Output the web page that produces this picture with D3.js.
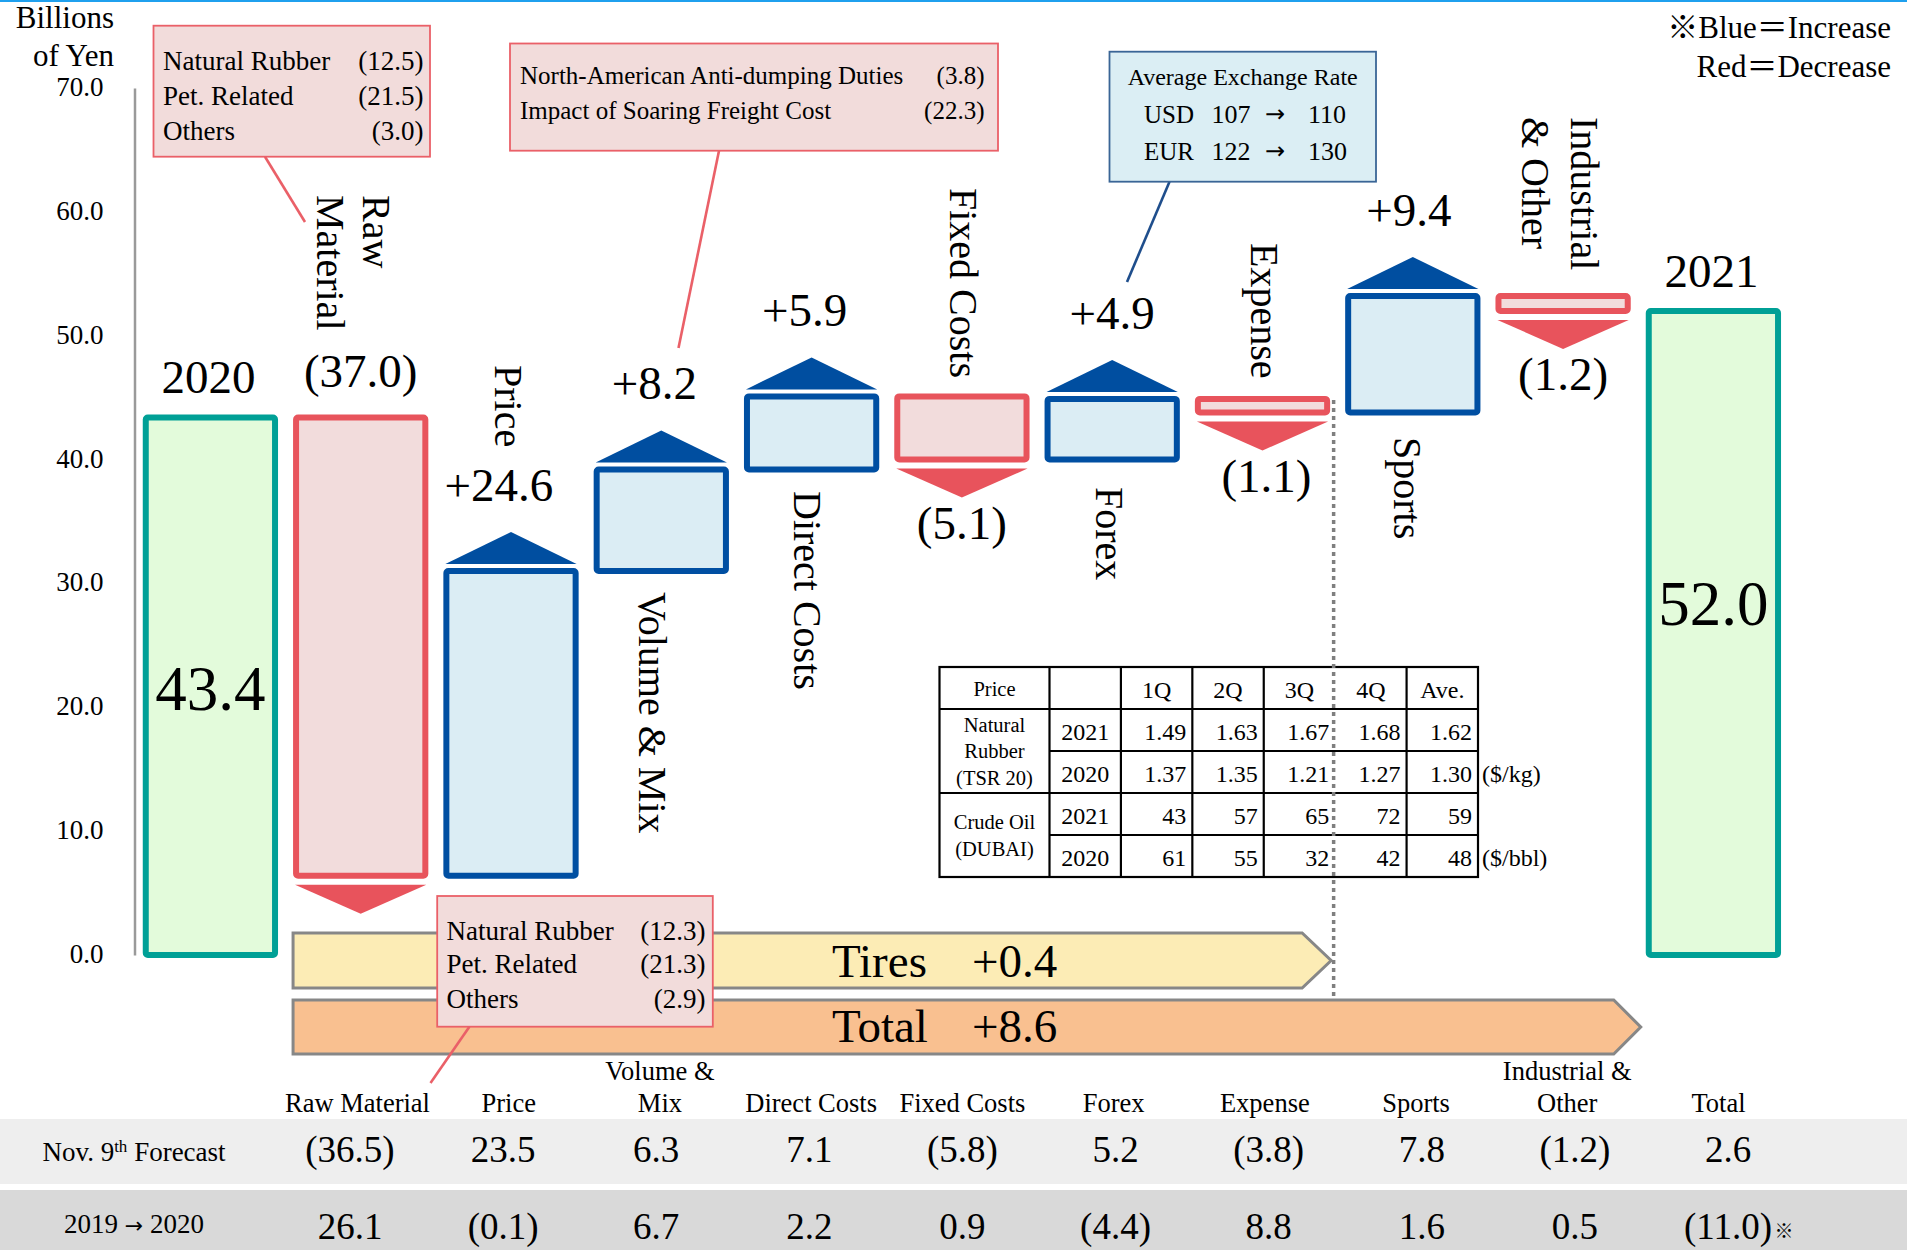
<!DOCTYPE html>
<html>
<head>
<meta charset="utf-8">
<title>Operating income variance 2020 → 2021</title>
<script src="https://cdn.jsdelivr.net/npm/d3@7/dist/d3.min.js"></script>
<style>
  html, body { margin: 0; padding: 0; background: #ffffff; }
  svg { display: block; }
  text { font-family: "Liberation Serif", "Times New Roman", "Noto Sans CJK JP", serif; fill: #000; }
  .arrow-glyph { font-family: "DejaVu Sans", sans-serif; }
</style>
</head>
<body>
<svg id="chart" width="1907" height="1250"></svg>
<script>
// ---------- data ----------
const steps = ["2020", "Raw Material", "Price", "Volume & Mix", "Direct Costs", "Fixed Costs",
               "Forex", "Expense", "Sports", "Industrial & Other", "2021"];
const stepValues = [43.4, -37.0, 24.6, 8.2, 5.9, -5.1, 4.9, -1.1, 9.4, -1.2, 52.0];
const totalSteps = ["2020", "2021"];
const tireSteps = ["Raw Material", "Price", "Volume & Mix", "Direct Costs", "Fixed Costs", "Forex", "Expense"];
const stepLabelLines = [[], ["Raw", "Material"], ["Price"], ["Volume & Mix"], ["Direct Costs"], ["Fixed Costs"],
                        ["Forex"], ["Expense"], ["Sports"], ["Industrial", "& Other"], []];

const yTicks = [0, 10, 20, 30, 40, 50, 60, 70];

const rawMaterialBreakdown = [["Natural Rubber", -12.5], ["Pet. Related", -21.5], ["Others", -3.0]];
const forecastRawBreakdown = [["Natural Rubber", -12.3], ["Pet. Related", -21.3], ["Others", -2.9]];
const priceBreakdown = [["North-American Anti-dumping Duties", -3.8], ["Impact of Soaring Freight Cost", -22.3]];
const fxCurrencies = ["USD", "EUR"];
const fxRate2020 = [107, 122];
const fxRate2021 = [110, 130];

const compareColumns = [["Raw Material"], ["Price"], ["Volume &", "Mix"], ["Direct Costs"], ["Fixed Costs"],
                        ["Forex"], ["Expense"], ["Sports"], ["Industrial &", "Other"], ["Total"]];
const forecastValues = [-36.5, 23.5, 6.3, 7.1, -5.8, 5.2, -3.8, 7.8, -1.2, 2.6];
const priorYearValues = [26.1, -0.1, 6.7, 2.2, 0.9, -4.4, 8.8, 1.6, 0.5, -11.0];

const quarterHeaders = ["1Q", "2Q", "3Q", "4Q", "Ave."];
const rubber2021 = [1.49, 1.63, 1.67, 1.68, 1.62];
const rubber2020 = [1.37, 1.35, 1.21, 1.27, 1.30];
const crude2021 = [43, 57, 65, 72, 59];
const crude2020 = [61, 55, 32, 42, 48];

// ---------- setup ----------
const W = 1907, H = 1250;
const svg = d3.select("#chart");
const fmtSigned = v => v < 0 ? `(${Math.abs(v).toFixed(1)})` : `+${v.toFixed(1)}`;
const fmtPlain = v => v < 0 ? `(${Math.abs(v).toFixed(1)})` : v.toFixed(1);

const palette = {
  total: { fill: "#e3fbdb", stroke: "#00a096" },
  up:    { fill: "#dbedf4", stroke: "#004fa2", tri: "#004ea0" },
  down:  { fill: "#f2dcdc", stroke: "#e8545c", tri: "#e8535c" }
};

const x = d3.scaleBand().domain(steps).range([135.25, 1788.55]).paddingInner(0.1).paddingOuter(0.05);
const bw = x.bandwidth();
const cx = s => x(s) + bw / 2;
const y = d3.scaleLinear().domain([0, 70]).range([955, 88]);

// running totals for the waterfall
let running = 0;
const bars = steps.map((s, i) => {
  const v = stepValues[i];
  if (totalSteps.includes(s)) { running = v; return { step: s, v, kind: "total", lo: 0, hi: v }; }
  const start = running; running += v;
  return { step: s, v, kind: v >= 0 ? "up" : "down", lo: Math.min(start, running), hi: Math.max(start, running) };
});
const tiresDelta = d3.sum(bars.filter(b => tireSteps.includes(b.step)), b => b.v);
const totalDelta = d3.sum(bars.filter(b => b.kind !== "total"), b => b.v);

// ---------- background bands, top rule ----------
svg.append("rect").attr("x", 0).attr("y", 1119).attr("width", W).attr("height", 65).attr("fill", "#eeeeee");
svg.append("rect").attr("x", 0).attr("y", 1190).attr("width", W).attr("height", 60).attr("fill", "#d9d9d9");
svg.append("rect").attr("x", 0).attr("y", 0).attr("width", W).attr("height", 2).attr("fill", "#1fa0ee");

// ---------- y axis ----------
const gAxis = svg.append("g").attr("transform", "translate(134.5,0)")
  .call(d3.axisLeft(y).tickValues(yTicks).tickSize(0).tickSizeOuter(0).tickPadding(31).tickFormat(d3.format(".1f")));
gAxis.attr("font-family", null).attr("font-size", null);
gAxis.select(".domain").attr("stroke", "#9a9a9a").attr("stroke-width", 2.5);
gAxis.selectAll(".tick text").attr("font-size", 27).attr("fill", "#000").attr("dy", "0.28em");

svg.append("text").attr("x", 114).attr("y", 28).attr("text-anchor", "end").attr("font-size", 31).text("Billions");
svg.append("text").attr("x", 114).attr("y", 66).attr("text-anchor", "end").attr("font-size", 31).text("of Yen");

// ---------- Tires / Total arrows ----------
function arrowPath(x0, tip, top, bottom, head) {
  const mid = (top + bottom) / 2;
  return `M${x0},${top}L${tip - head},${top}L${tip},${mid}L${tip - head},${bottom}L${x0},${bottom}Z`;
}
const arrowX0 = x("Raw Material");
const tiresTip = x("Expense") + bw + 1;
const totalTip = x("Industrial & Other") + bw + 10;
svg.append("path").attr("d", arrowPath(arrowX0, tiresTip, 933, 988, 29))
  .attr("fill", "#fcecb5").attr("stroke", "#878787").attr("stroke-width", 3);
svg.append("path").attr("d", arrowPath(arrowX0, totalTip, 1000, 1054, 27))
  .attr("fill", "#f9c090").attr("stroke", "#878787").attr("stroke-width", 3);
svg.append("text").attr("x", 832).attr("y", 977).attr("font-size", 47).text("Tires");
svg.append("text").attr("x", 972).attr("y", 977).attr("font-size", 47).text(fmtSigned(tiresDelta));
svg.append("text").attr("x", 832).attr("y", 1042).attr("font-size", 47).text("Total");
svg.append("text").attr("x", 972).attr("y", 1042).attr("font-size", 47).text(fmtSigned(totalDelta));

// ---------- price table ----------
const tX0 = 939.5, tX1 = 1478, tCol0 = 1049.5;
const tCols = d3.scaleBand().domain(["year", ...quarterHeaders]).range([tCol0, tX1]);
const tRows = d3.scaleBand().domain(["head", "nr21", "nr20", "co21", "co20"]).range([667, 877]);
const gT = svg.append("g");
gT.append("rect").attr("x", tX0).attr("y", 667).attr("width", tX1 - tX0).attr("height", 210)
  .attr("fill", "#fff").attr("stroke", "#000").attr("stroke-width", 2.2);
const hLine = (x0, x1, yy) => gT.append("line").attr("x1", x0).attr("x2", x1).attr("y1", yy).attr("y2", yy)
  .attr("stroke", "#000").attr("stroke-width", 2.2);
const vLine = (xx, y0, y1) => gT.append("line").attr("x1", xx).attr("x2", xx).attr("y1", y0).attr("y2", y1)
  .attr("stroke", "#000").attr("stroke-width", 2.2);
hLine(tX0, tX1, tRows("nr21"));
hLine(tCol0, tX1, tRows("nr20"));
hLine(tX0, tX1, tRows("co21"));
hLine(tCol0, tX1, tRows("co20"));
vLine(tCol0, 667, 877);
["1Q", "2Q", "3Q", "Ave."].forEach(q => vLine(tCols(q), 667, 877));

const rb = tRows.bandwidth();
const rowText = (row) => tRows(row) + rb / 2;
gT.append("text").attr("x", (tX0 + tCol0) / 2).attr("y", rowText("head")).attr("dy", "0.38em")
  .attr("text-anchor", "middle").attr("font-size", 20.5).text("Price");
quarterHeaders.forEach(q => gT.append("text").attr("x", tCols(q) + tCols.bandwidth() / 2).attr("y", rowText("head"))
  .attr("dy", "0.4em").attr("text-anchor", "middle").attr("font-size", 24).text(q));

const tableRows = [
  { row: "nr21", year: "2021", vals: rubber2021, fmt: d3.format(".2f") },
  { row: "nr20", year: "2020", vals: rubber2020, fmt: d3.format(".2f") },
  { row: "co21", year: "2021", vals: crude2021, fmt: d3.format("d") },
  { row: "co20", year: "2020", vals: crude2020, fmt: d3.format("d") }
];
tableRows.forEach(r => {
  gT.append("text").attr("x", tCols("year") + tCols.bandwidth() / 2).attr("y", rowText(r.row)).attr("dy", "0.4em")
    .attr("text-anchor", "middle").attr("font-size", 24).text(r.year);
  r.vals.forEach((v, i) => gT.append("text").attr("x", tCols(quarterHeaders[i]) + tCols.bandwidth() - 6)
    .attr("y", rowText(r.row)).attr("dy", "0.4em").attr("text-anchor", "end").attr("font-size", 24).text(r.fmt(v)));
});
const mergedLabel = (lines, y0, y1) => {
  const mid = (y0 + y1) / 2, gap = 26.5;
  lines.forEach((l, i) => gT.append("text").attr("x", (tX0 + tCol0) / 2)
    .attr("y", mid + (i - (lines.length - 1) / 2) * gap).attr("dy", "0.36em")
    .attr("text-anchor", "middle").attr("font-size", 20.5).text(l));
};
mergedLabel(["Natural", "Rubber", "(TSR 20)"], tRows("nr21"), tRows("co21"));
mergedLabel(["Crude Oil", "(DUBAI)"], tRows("co21"), 877);
gT.append("text").attr("x", tX1 + 4).attr("y", rowText("nr20")).attr("dy", "0.4em").attr("font-size", 24).text("($/kg)");
gT.append("text").attr("x", tX1 + 4).attr("y", rowText("co20")).attr("dy", "0.4em").attr("font-size", 24).text("($/bbl)");

// dotted divider between Tires and the other segments
svg.append("line").attr("x1", x("Expense") + bw + 3.5).attr("x2", x("Expense") + bw + 3.5)
  .attr("y1", 400).attr("y2", 997).attr("stroke", "#7f7f7f").attr("stroke-width", 3.5).attr("stroke-dasharray", "4,4");

// ---------- waterfall bars ----------
const gBars = svg.append("g");
gBars.selectAll("rect").data(bars).join("rect")
  .attr("x", d => x(d.step) + 3)
  .attr("y", d => y(d.hi))
  .attr("width", bw - 6)
  .attr("height", d => y(d.lo) - y(d.hi))
  .attr("rx", 2)
  .attr("fill", d => palette[d.kind].fill)
  .attr("stroke", d => palette[d.kind].stroke)
  .attr("stroke-width", 6);

gBars.selectAll("path").data(bars.filter(d => d.kind !== "total")).join("path")
  .attr("d", d => {
    const x0 = x(d.step) + 2, x1 = x(d.step) + bw - 2, c = cx(d.step);
    if (d.kind === "up") { const b = y(d.hi) - 7; return `M${x0},${b}L${x1},${b}L${c},${b - 32}Z`; }
    const t = y(d.lo) + 9; return `M${x0},${t}L${x1},${t}L${c},${t + 29}Z`;
  })
  .attr("fill", d => palette[d.kind].tri);

// value labels
const labelAbove = ["Raw Material"];
const labelShift = { "Price": -12, "Volume & Mix": -7, "Direct Costs": -7, "Expense": 4, "Sports": -4 };
const innerShift = { "2020": 2, "2021": -30 };
bars.forEach(d => {
  const c = cx(d.step) + (labelShift[d.step] || 0);
  if (d.kind === "total") {
    svg.append("text").attr("x", c - 2).attr("y", y(d.hi) - 24).attr("text-anchor", "middle").attr("font-size", 47).text(d.step);
    svg.append("text").attr("x", cx(d.step)).attr("y", (y(d.hi) + y(d.lo)) / 2 + innerShift[d.step]).attr("dy", "0.35em")
      .attr("text-anchor", "middle").attr("font-size", 63).text(d.v.toFixed(1));
  } else {
    let yy;
    if (labelAbove.includes(d.step)) yy = y(d.hi) - 30;
    else if (d.kind === "up") yy = y(d.hi) - 70;
    else yy = y(d.lo) + 79;
    svg.append("text").attr("x", c).attr("y", yy).attr("text-anchor", "middle").attr("font-size", 47).text(fmtSigned(d.v));
  }
});

// rotated category names
const rotLayout = {
  "Raw Material": { top: 195, dx: [16, -30] },
  "Price": { top: 365, dx: [-2] },
  "Volume & Mix": { top: 592, dx: [-8] },
  "Direct Costs": { top: 491, dx: [-4] },
  "Fixed Costs": { top: 188, dx: [2] },
  "Forex": { top: 487, dx: [-2] },
  "Expense": { top: 243, dx: [2.5] },
  "Sports": { top: 437, dx: [-5] },
  "Industrial & Other": { top: 117, dx: [22, -27] }
};
steps.forEach((s, i) => {
  const lines = stepLabelLines[i];
  if (!lines.length) return;
  const lay = rotLayout[s];
  lines.forEach((l, j) => {
    svg.append("text")
      .attr("transform", `translate(${cx(s) + lay.dx[j]},${lay.top}) rotate(90)`)
      .attr("dy", "0.35em").attr("font-size", 40).text(l);
  });
});

// ---------- callouts ----------
function callout(box, lines, opts) {
  const g = svg.append("g");
  g.append("line").attr("x1", opts.lead[0]).attr("y1", opts.lead[1]).attr("x2", opts.lead[2]).attr("y2", opts.lead[3])
    .attr("stroke", opts.stroke).attr("stroke-width", 2.6);
  g.append("rect").attr("x", box[0]).attr("y", box[1]).attr("width", box[2] - box[0]).attr("height", box[3] - box[1])
    .attr("fill", opts.fill).attr("stroke", opts.stroke).attr("stroke-width", 1.8);
  lines.forEach((row, i) => {
    g.append("text").attr("x", opts.left).attr("y", opts.base[i]).attr("font-size", opts.size).text(row[0]);
    g.append("text").attr("x", opts.right).attr("y", opts.base[i]).attr("text-anchor", "end")
      .attr("font-size", opts.size).text(fmtPlain(row[1]));
  });
  return g;
}
callout([153.5, 25.7, 430, 156.7], rawMaterialBreakdown,
  { fill: "#f2dcdb", stroke: "#ea6068", left: 163, right: 423.5, base: [70, 105, 140], size: 27, lead: [265, 156.7, 305, 222] });
callout([510, 43.5, 998, 150.7], priceBreakdown,
  { fill: "#f2dcdb", stroke: "#ea6068", left: 520, right: 984.5, base: [83.5, 118.5], size: 25, lead: [719, 150.7, 678.5, 348] });

// exchange rate callout
const gFx = svg.append("g");
gFx.append("line").attr("x1", 1169.5).attr("y1", 181.7).attr("x2", 1127).attr("y2", 282)
  .attr("stroke", "#1f4e8c").attr("stroke-width", 2.6);
gFx.append("rect").attr("x", 1109.5).attr("y", 51.7).attr("width", 266.5).attr("height", 130)
  .attr("fill", "#dbeef4").attr("stroke", "#3a6596").attr("stroke-width", 1.8);
gFx.append("text").attr("x", 1242.7).attr("y", 85).attr("text-anchor", "middle").attr("font-size", 24).text("Average Exchange Rate");
fxCurrencies.forEach((c, i) => {
  const by = [123, 160][i];
  gFx.append("text").attr("x", 1144).attr("y", by).attr("font-size", 25).text(c);
  gFx.append("text").attr("x", 1211.5).attr("y", by).attr("font-size", 26).text(fxRate2020[i]);
  gFx.append("text").attr("class", "arrow-glyph").attr("x", 1265).attr("y", by - 1).attr("font-size", 24).text("→");
  gFx.append("text").attr("x", 1308).attr("y", by).attr("font-size", 26).text(fxRate2021[i]);
});

// forecast raw material breakdown (over the arrows)
callout([437.2, 896, 712.8, 1026.7], forecastRawBreakdown,
  { fill: "#f2dcdb", stroke: "#ea6068", left: 446.5, right: 705.5, base: [939.5, 973, 1008], size: 27, lead: [469.4, 1026.7, 430.5, 1083] });

// ---------- legend ----------
svg.append("text").attr("x", 1891).attr("y", 38).attr("text-anchor", "end").attr("font-size", 31).text("※Blue＝Increase");
svg.append("text").attr("x", 1891).attr("y", 77).attr("text-anchor", "end").attr("font-size", 31).text("Red＝Decrease");

// ---------- comparison rows ----------
const headX = d3.scalePoint().domain(d3.range(compareColumns.length)).range([357.5, 1718.5]);
compareColumns.forEach((lines, i) => {
  lines.forEach((l, j) => {
    const base = 1111.5 - (lines.length - 1 - j) * 31.5;
    svg.append("text").attr("x", headX(i)).attr("y", base).attr("text-anchor", "middle").attr("font-size", 26.5).text(l);
  });
});
const colX = d3.scalePoint().domain(d3.range(compareColumns.length)).range([350, 1728]);
forecastValues.forEach((v, i) => svg.append("text").attr("x", colX(i)).attr("y", 1162)
  .attr("text-anchor", "middle").attr("font-size", 37).text(fmtPlain(v)));
priorYearValues.forEach((v, i) => svg.append("text").attr("x", colX(i)).attr("y", 1239)
  .attr("text-anchor", "middle").attr("font-size", 37).text(fmtPlain(v)));
svg.append("text").attr("x", 1784).attr("y", 1238).attr("text-anchor", "middle").attr("font-size", 19).text("※");

const fl = svg.append("text").attr("x", 134).attr("y", 1161).attr("text-anchor", "middle").attr("font-size", 27);
fl.append("tspan").text("Nov. 9");
fl.append("tspan").attr("font-size", 17).attr("dy", -9).text("th");
fl.append("tspan").attr("dy", 9).text(" Forecast");
const py = svg.append("text").attr("x", 134).attr("y", 1233).attr("text-anchor", "middle").attr("font-size", 27);
py.append("tspan").text("2019 ");
py.append("tspan").attr("class", "arrow-glyph").attr("font-size", 22).text("→");
py.append("tspan").text(" 2020");
</script>
</body>
</html>
